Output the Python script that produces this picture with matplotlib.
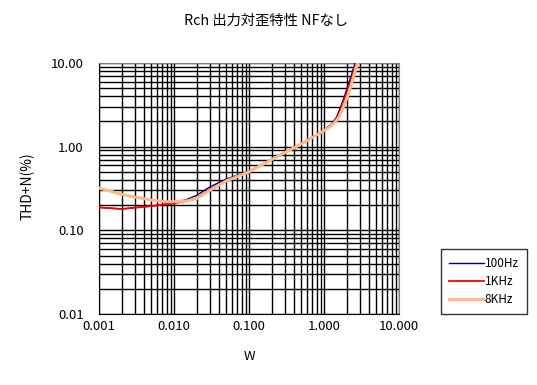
import matplotlib
matplotlib.use('Agg')
import matplotlib.pyplot as plt
from matplotlib.ticker import LogLocator, FixedLocator, FixedFormatter, NullFormatter

plt.rcParams['font.family'] = ['Noto Sans CJK JP', 'DejaVu Sans']

# output power (W) and THD+N (%)
w_100 = [0.001, 0.002, 0.005, 0.01, 0.015, 0.02, 0.03, 0.05, 0.1, 0.2, 0.5, 1.0, 1.09, 1.3, 1.47, 1.67, 1.9, 2.3, 2.6]
thd_100 = [0.188, 0.18, 0.195, 0.212, 0.235, 0.262, 0.33, 0.41, 0.51, 0.71, 1.09, 1.55, 1.68, 1.92, 2.25, 3.0, 4.15, 7.0, 10.0]

w_1k = [0.001, 0.002, 0.005, 0.01, 0.015, 0.02, 0.03, 0.05, 0.1, 0.2, 0.5, 1.0, 1.1, 1.33, 1.52, 1.72, 1.97, 2.4, 2.68]
thd_1k = [0.188, 0.18, 0.195, 0.21, 0.225, 0.245, 0.31, 0.39, 0.50, 0.70, 1.08, 1.54, 1.66, 1.9, 2.22, 3.0, 4.15, 7.0, 10.0]

w_8k = [0.001, 0.002, 0.003, 0.005, 0.008, 0.01, 0.015, 0.02, 0.03, 0.05, 0.1, 0.2, 0.5, 1.0, 1.15, 1.4, 1.6, 1.82, 2.1, 2.5, 2.8]
thd_8k = [0.32, 0.27, 0.25, 0.23, 0.22, 0.22, 0.225, 0.24, 0.30, 0.39, 0.50, 0.70, 1.08, 1.55, 1.68, 1.95, 2.3, 3.0, 4.15, 7.0, 10.0]

series = [
    ('100Hz', w_100, thd_100, '#000080', 1.0),
    ('1KHz', w_1k, thd_1k, '#ff0000', 1.3),
    ('8KHz', w_8k, thd_8k, '#ffb888', 2.2),
]

x_ticks = [0.001, 0.01, 0.1, 1, 10]
x_labels = ['0.001', '0.010', '0.100', '1.000', '10.000']
y_ticks = [0.01, 0.1, 1, 10]
y_labels = ['0.01', '0.10', '1.00', '10.00']

fig = plt.figure(figsize=(5.37, 3.85), dpi=100)
ax = fig.add_axes([99 / 537, 1 - 314 / 385, 300 / 537, 251 / 385])

lines = []
for name, xs, ys, col, lw in series:
    ln, = ax.plot(xs, ys, color=col, lw=lw, label=name, zorder=3)
    lines.append(ln)

ax.set_xscale('log')
ax.set_yscale('log')
ax.set_xlim(0.001, 10)
ax.set_ylim(0.01, 10)

ax.xaxis.set_major_locator(FixedLocator(x_ticks))
ax.xaxis.set_major_formatter(FixedFormatter(x_labels))
ax.xaxis.set_minor_locator(LogLocator(base=10, subs=range(2, 10), numticks=20))
ax.xaxis.set_minor_formatter(NullFormatter())
ax.yaxis.set_major_locator(FixedLocator(y_ticks))
ax.yaxis.set_major_formatter(FixedFormatter(y_labels))
ax.yaxis.set_minor_locator(LogLocator(base=10, subs=range(2, 10), numticks=20))
ax.yaxis.set_minor_formatter(NullFormatter())

ax.grid(True, which='both', color='black', lw=1.0)
ax.tick_params(which='both', length=0, labelsize=9.5)
ax.tick_params(axis='x', pad=4)
ax.tick_params(axis='y', pad=11)
for s in ['top', 'right']:
    ax.spines[s].set_color('#808080')
for s in ['left', 'bottom']:
    ax.spines[s].set_color('black')

fig.text(266 / 537, 1 - 21 / 385, 'Rch 出力対歪特性 NFなし', ha='center', va='center', fontsize=10.3)
fig.text(249 / 537, 1 - 357 / 385, 'W', ha='center', va='center', fontsize=9.5)
fig.text(28 / 537, 1 - 186 / 385, 'THD+N(%)', ha='center', va='center', rotation=90, fontsize=10)

leg = fig.legend(handles=lines, loc='upper left', bbox_to_anchor=(441 / 537, 1 - 249 / 385),
                 borderaxespad=0, frameon=True, fancybox=False, edgecolor='black', fontsize=8.5,
                 handlelength=2.9, handletextpad=0.1, labelspacing=0.4, borderpad=0.7)
leg.get_frame().set_linewidth(1.0)

fig.savefig('out.png', dpi=100)
